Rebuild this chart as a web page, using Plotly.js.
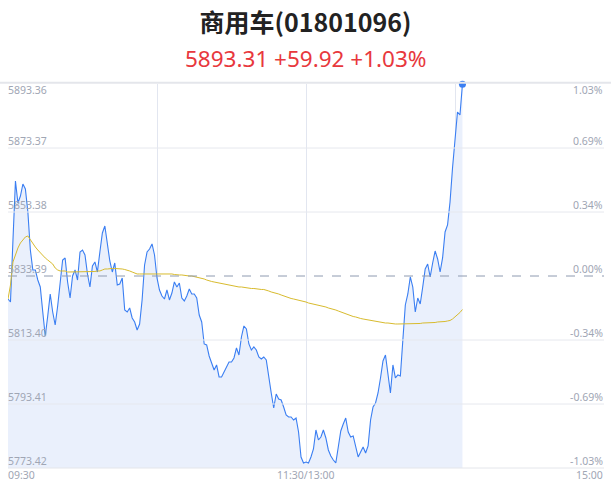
<!DOCTYPE html>
<html>
<head>
<meta charset="utf-8">
<script src="https://cdn.plot.ly/plotly-3.0.1.min.js"></script>
<style>
  html, body { margin: 0; padding: 0; background: #fff; }
  #chart { width: 611px; height: 492px; }
</style>
</head>
<body>
<div id="chart"></div>
<script>
// 商用车 intraday, one point per trading minute from 09:30
var titleText = "商用车(01801096)";
var quoteText = "5893.31 +59.92 +1.03%";
var prevClose = 5833.39;

var price = [
  5826.21, 5825.27, 5844.64, 5863.07, 5856.19, 5858.38, 5862.13, 5860.57, 5853.38, 5841.51,
  5835.27, 5835.27, 5832.14, 5829.96, 5822.15, 5814.65, 5820.90, 5827.77, 5822.15, 5818.09,
  5824.02, 5831.52, 5838.39, 5839.02, 5831.52, 5826.52, 5833.39, 5835.27, 5832.14, 5840.89,
  5841.51, 5839.95, 5834.02, 5829.96, 5836.52, 5837.77, 5834.64, 5840.89, 5846.82, 5849.01,
  5843.39, 5838.08, 5834.64, 5837.45, 5830.58, 5830.90, 5832.77, 5822.77, 5822.15, 5823.40,
  5820.28, 5819.03, 5816.53, 5818.40, 5825.90, 5836.83, 5840.89, 5841.83, 5843.39, 5839.95,
  5832.77, 5829.02, 5827.15, 5826.21, 5829.02, 5825.90, 5828.08, 5831.52, 5829.96, 5831.21,
  5826.52, 5825.59, 5827.15, 5829.33, 5827.77, 5827.77, 5826.52, 5821.21, 5819.03, 5812.16,
  5811.84, 5808.41, 5806.22, 5804.03, 5805.60, 5801.85, 5801.85, 5803.41, 5805.28, 5806.53,
  5806.53, 5807.78, 5810.91, 5808.72, 5814.34, 5817.78, 5816.84, 5812.16, 5810.28, 5811.22,
  5810.28, 5808.09, 5807.47, 5808.09, 5807.16, 5801.54, 5796.85, 5792.17, 5796.54, 5794.98,
  5794.66, 5792.48, 5789.98, 5789.35, 5789.35, 5788.42, 5789.04, 5784.67, 5776.86, 5774.99,
  5775.30, 5774.99, 5776.86, 5779.36, 5785.29, 5782.17, 5783.11, 5785.29, 5782.80, 5779.05,
  5777.17, 5775.92, 5774.99, 5779.98, 5784.98, 5787.17, 5789.04, 5784.67, 5783.11, 5783.42,
  5779.98, 5776.86, 5778.42, 5779.98, 5778.11, 5780.30, 5788.42, 5792.48, 5793.73, 5796.85,
  5801.54, 5806.85, 5808.72, 5802.47, 5796.85, 5805.60, 5801.54, 5802.47, 5802.16, 5813.40,
  5824.34, 5827.77, 5833.08, 5829.96, 5822.15, 5826.52, 5824.65, 5829.96, 5835.58, 5837.14,
  5833.08, 5837.45, 5841.20, 5838.70, 5834.64, 5839.02, 5847.14, 5849.32, 5856.51, 5867.13,
  5876.81, 5884.62, 5883.68, 5893.31
];

var avgPrice = [
  5826.21, 5830.58, 5837.77, 5840.27, 5842.14, 5843.70, 5844.64, 5845.58, 5845.89, 5844.64,
  5843.39, 5842.45, 5841.51, 5840.58, 5839.64, 5839.02, 5838.39, 5837.77, 5837.14, 5835.89,
  5835.27, 5834.96, 5834.96, 5834.96, 5834.64, 5834.64, 5834.64, 5834.64, 5834.64, 5834.64,
  5834.64, 5834.64, 5834.64, 5834.64, 5834.64, 5834.80, 5834.96, 5834.96, 5835.27, 5835.58,
  5835.58, 5835.74, 5835.74, 5835.74, 5835.74, 5835.58, 5835.58, 5835.42, 5835.27, 5834.96,
  5834.64, 5834.33, 5834.02, 5834.02, 5834.02, 5834.02, 5834.02, 5834.02, 5834.18, 5834.18,
  5834.18, 5834.18, 5834.18, 5834.02, 5834.02, 5834.02, 5834.02, 5833.86, 5833.71, 5833.71,
  5833.71, 5833.55, 5833.39, 5833.39, 5833.39, 5833.24, 5833.08, 5832.93, 5832.77, 5832.46,
  5832.14, 5831.83, 5831.68, 5831.52, 5831.36, 5831.05, 5830.90, 5830.74, 5830.58, 5830.43,
  5830.27, 5830.27, 5830.11, 5829.96, 5829.96, 5829.80, 5829.65, 5829.65, 5829.49, 5829.49,
  5829.33, 5829.33, 5829.18, 5829.18, 5829.02, 5828.71, 5828.40, 5828.24, 5828.08, 5827.77,
  5827.46, 5827.15, 5826.83, 5826.52, 5826.37, 5826.21, 5826.05, 5825.90, 5825.74, 5825.43,
  5825.27, 5824.96, 5824.80, 5824.65, 5824.34, 5824.18, 5824.02, 5823.87, 5823.71, 5823.40,
  5823.24, 5822.93, 5822.77, 5822.46, 5822.15, 5821.84, 5821.53, 5821.21, 5820.90, 5820.74,
  5820.59, 5820.28, 5820.12, 5819.96, 5819.81, 5819.65, 5819.50, 5819.34, 5819.18, 5819.03,
  5818.87, 5818.87, 5818.71, 5818.71, 5818.56, 5818.56, 5818.40, 5818.40, 5818.40, 5818.40,
  5818.40, 5818.40, 5818.40, 5818.56, 5818.56, 5818.56, 5818.56, 5818.71, 5818.71, 5818.71,
  5818.87, 5818.87, 5818.87, 5819.03, 5819.03, 5819.03, 5819.18, 5819.34, 5819.50, 5819.96,
  5820.59, 5821.21, 5821.99, 5822.93
];

var priceTicks = [5893.36, 5873.37, 5853.38, 5833.39, 5813.40, 5793.41, 5773.42];
var pctTicks = ["1.03%", "0.69%", "0.34%", "0.00%", "-0.34%", "-0.69%", "-1.03%"];
var gridVals = [5873.37, 5853.38, 5813.40, 5793.41];
var timeVals = [0, 120, 240];
var timeLabels = ["09:30", "11:30/13:00", "15:00"];
var timeAnchors = ["left", "center", "right"];

var minutes = [];
for (var i = 0; i < price.length; i++) {
    minutes.push(i);
}
var last = price.length - 1;

var font = '"Noto Sans", "DejaVu Sans", sans-serif';
var cjkFont = '"Noto Sans CJK SC", "Noto Sans", sans-serif';
var tickColor = '#a0a6b4';

var trace1 = {
    x: minutes,
    y: price,
    type: 'scatter',
    mode: 'lines',
    line: {color: '#3a7ef2', width: 1.1},
    fill: 'tozeroy',
    fillcolor: '#eaf0fc',
    hoverinfo: 'skip'
};

var trace2 = {
    x: minutes,
    y: avgPrice,
    type: 'scatter',
    mode: 'lines',
    line: {color: '#d8bb2e', width: 1},
    hoverinfo: 'skip'
};

var trace3 = {
    x: [minutes[last]],
    y: [price[last]],
    type: 'scatter',
    mode: 'markers',
    marker: {color: '#3a7ef2', size: 7},
    hoverinfo: 'skip',
    cliponaxis: false
};

var shapes = [];
for (var g = 0; g < gridVals.length; g++) {
    shapes.push({
        type: 'line', xref: 'paper', yref: 'y',
        x0: 0, x1: 1, y0: gridVals[g], y1: gridVals[g],
        line: {color: '#e6e8ee', width: 1}
    });
}
shapes.push({
    type: 'line', xref: 'paper', yref: 'y',
    x0: 0, x1: 1, y0: prevClose, y1: prevClose,
    line: {color: '#8e9ab0', width: 1, dash: 'dash'}
});
// top and bottom frame lines
shapes.push({
    type: 'line', xref: 'paper', yref: 'paper',
    x0: -8 / 596, x1: 1 + 7 / 596, y0: 1.003, y1: 1.003,
    line: {color: '#e4e6eb', width: 2}
});
shapes.push({
    type: 'line', xref: 'paper', yref: 'paper',
    x0: 0, x1: 1, y0: 0, y1: 0,
    line: {color: '#e4e6eb', width: 1}
});

var annotations = [];
// price labels on the left, percent labels on the right, sitting on their lines
for (var k = 0; k < priceTicks.length; k++) {
    var anchorY = k === 0 ? 'top' : 'bottom';
    var shiftY = k === 0 ? 3 : -2;
    annotations.push({
        x: 0, xref: 'paper', y: priceTicks[k], yref: 'y',
        text: priceTicks[k].toFixed(2), showarrow: false,
        xanchor: 'left', yanchor: anchorY, xshift: -2, yshift: shiftY,
        font: {family: font, size: 10.5, color: tickColor}
    });
    annotations.push({
        x: 1, xref: 'paper', y: priceTicks[k], yref: 'y',
        text: pctTicks[k], showarrow: false,
        xanchor: 'right', yanchor: anchorY, xshift: 1, yshift: shiftY,
        font: {family: font, size: 10.5, color: tickColor}
    });
}
for (var t = 0; t < timeVals.length; t++) {
    annotations.push({
        x: timeVals[t], xref: 'x', y: 0, yref: 'paper',
        text: timeLabels[t], showarrow: false,
        xanchor: timeAnchors[t], yanchor: 'top', yshift: 2, xshift: t === 0 ? -2 : (t === 2 ? 1 : 0),
        font: {family: font, size: 10.5, color: tickColor}
    });
}
annotations.push({
    x: 0.5, xref: 'paper', y: 1 + 25 / 384, yref: 'paper',
    text: quoteText, showarrow: false,
    xanchor: 'center', yanchor: 'middle',
    font: {family: font, size: 22.5, color: '#e8383d'}
});

var data = [trace1, trace2, trace3];

var layout = {
    width: 611,
    height: 492,
    margin: {l: 8, r: 7, t: 84, b: 24},
    paper_bgcolor: '#ffffff',
    plot_bgcolor: '#ffffff',
    showlegend: false,
    title: {
        text: '<b>' + titleText + '</b>',
        x: 0.5, xanchor: 'center',
        y: 1 - 23 / 492, yref: 'container', yanchor: 'middle',
        font: {family: cjkFont, size: 25, color: '#222222'}
    },
    xaxis: {
        range: [0, 240],
        tickvals: [60, 120, 180],
        showticklabels: false,
        showgrid: true,
        gridcolor: '#e2e6f0',
        gridwidth: 1,
        zeroline: false,
        showline: false,
        fixedrange: true
    },
    yaxis: {
        range: [priceTicks[6], priceTicks[0]],
        showticklabels: false,
        showgrid: false,
        zeroline: false,
        showline: false,
        ticks: ''
    },
    shapes: shapes,
    annotations: annotations
};

Plotly.newPlot('chart', data, layout, {displayModeBar: false, staticPlot: true});
</script>
</body>
</html>
